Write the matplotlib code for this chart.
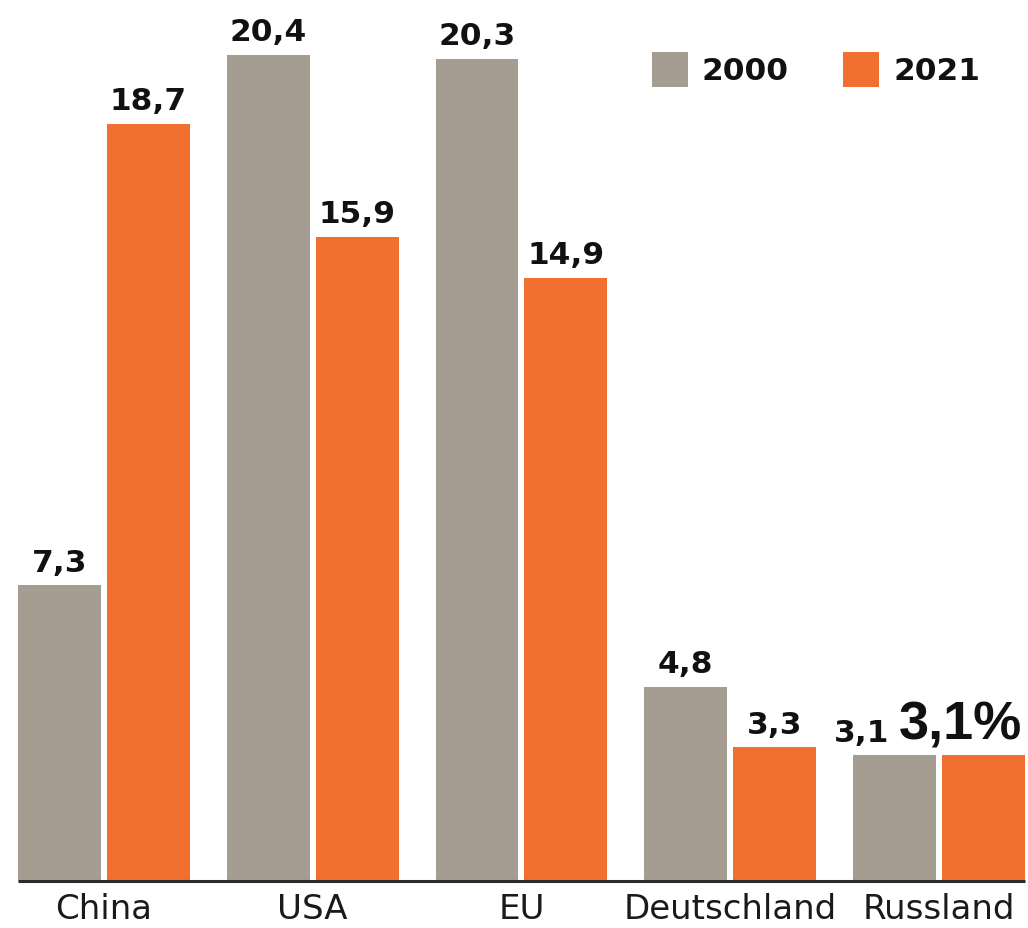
import matplotlib
matplotlib.use("Agg")
import matplotlib.pyplot as plt
from matplotlib.patches import Rectangle
import numpy as np

categories = ["China", "USA", "EU", "Deutschland", "Russland"]
share_2000 = [7.3, 20.4, 20.3, 4.8, 3.1]
share_2021 = [18.7, 15.9, 14.9, 3.3, 3.1]
series_labels = ["2000", "2021"]

GRAY = "#a69d92"
ORANGE = "#f2702f"

W, H = 1028, 929
fig = plt.figure(figsize=(W / 100, H / 100), dpi=100)
fig.patch.set_facecolor("white")

ax = fig.add_axes([0, 47 / H, 1, 1 - 47 / H])
ax.set_facecolor("white")

x = np.arange(len(categories))
width = 0.397
offset = 0.213

ax.bar(x - offset, share_2000, width, color=GRAY, linewidth=0)
ax.bar(x + offset, share_2021, width, color=ORANGE, linewidth=0)

ax.set_xlim(-0.498, -0.498 + W / 208.75)
ax.set_ylim(0, 882 / 40.5)

for s in ax.spines.values():
    s.set_visible(False)
ax.set_yticks([])
ax.set_xticks([])

# baseline under the bars
left_edge = x[0] - offset - width / 2
right_edge = x[-1] + offset + width / 2
ax.plot([left_edge, right_edge], [0, 0], color="#2b2b2b", lw=2.2,
        solid_capstyle="butt", clip_on=False, zorder=5)

# category names under each group
for xi, name in zip(x, categories):
    ax.annotate(name, (xi, 0), xytext=(0, -27), textcoords="offset points",
                ha="center", va="baseline", fontsize=24.5,
                family="DejaVu Sans", color="#1a1a1a", annotation_clip=False)

def fmt(v):
    return f"{v:.1f}".replace(".", ",")

label_kw = dict(textcoords="offset points", ha="center", va="baseline",
                fontsize=22.5, fontweight="bold", family="DejaVu Sans",
                color="#111111")

last = len(categories) - 1
for i, (a, b) in enumerate(zip(share_2000, share_2021)):
    if i == last:
        # highlighted value for the most recent year
        ax.annotate(fmt(b) + "%", (x[i] + offset + width / 2, b), xytext=(-2, 12),
                    textcoords="offset points", ha="right", va="baseline",
                    fontsize=39, fontweight="bold",
                    family=["Liberation Sans Narrow", "Liberation Sans", "DejaVu Sans"],
                    color="#111111")
        ax.annotate(fmt(a), (x[i] - offset, a), xytext=(-24, 10.5), **label_kw)
    else:
        ax.annotate(fmt(a), (x[i] - offset, a), xytext=(0, 10.5), **label_kw)
        ax.annotate(fmt(b), (x[i] + offset, b), xytext=(0, 10.5), **label_kw)

# legend
legend_items = [(652, GRAY, series_labels[0], 702), (843, ORANGE, series_labels[1], 893)]
for sx, col, txt, tx in legend_items:
    fig.add_artist(Rectangle((sx / W, 1 - 88 / H), 36 / W, 35 / H,
                             transform=fig.transFigure, color=col, lw=0))
    fig.text(tx / W, 1 - 80 / H, txt, ha="left", va="baseline",
             fontsize=22.5, fontweight="bold", family="DejaVu Sans",
             color="#111111")

fig.savefig("out.png", dpi=100, facecolor="white")
